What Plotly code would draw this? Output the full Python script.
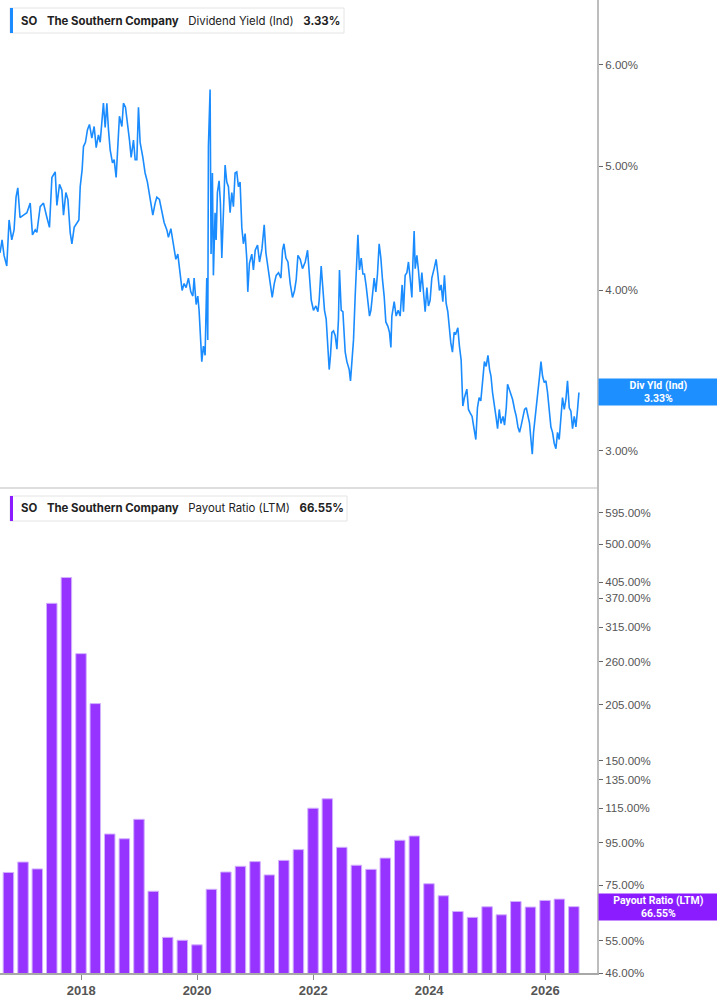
import math
import pandas as pd
import plotly.graph_objects as go

# ---------------- data ----------------
# Dividend yield (Ind), % — decimal-year dates
yield_dates = [
    2016.603, 2016.638, 2016.672, 2016.719, 2016.759, 2016.805, 2016.845, 2016.879, 2016.909, 2016.948,
    2017.005, 2017.064, 2017.121, 2017.160, 2017.207, 2017.236, 2017.293, 2017.350, 2017.409, 2017.453,
    2017.495, 2017.552, 2017.581, 2017.626, 2017.667, 2017.695, 2017.736, 2017.771, 2017.810, 2017.840,
    2017.879, 2017.926, 2017.960, 2017.983, 2018.017, 2018.040, 2018.074, 2018.109, 2018.143, 2018.184,
    2018.224, 2018.259, 2018.298, 2018.328, 2018.357, 2018.384, 2018.414, 2018.443, 2018.471, 2018.500,
    2018.540, 2018.569, 2018.603, 2018.626, 2018.660, 2018.702, 2018.729, 2018.764, 2018.798, 2018.833,
    2018.862, 2018.902, 2018.931, 2018.960, 2018.988, 2019.017, 2019.064, 2019.103, 2019.143, 2019.172,
    2019.202, 2019.236, 2019.276, 2019.305, 2019.350, 2019.391, 2019.431, 2019.478, 2019.505, 2019.547,
    2019.591, 2019.633, 2019.667, 2019.707, 2019.741, 2019.776, 2019.810, 2019.850, 2019.891, 2019.926,
    2019.948, 2019.983, 2020.012, 2020.034, 2020.052, 2020.081, 2020.109, 2020.138, 2020.167, 2020.184,
    2020.195, 2020.224, 2020.241, 2020.264, 2020.281, 2020.310, 2020.328, 2020.350, 2020.379, 2020.402,
    2020.426, 2020.453, 2020.483, 2020.512, 2020.540, 2020.569, 2020.598, 2020.626, 2020.655, 2020.684,
    2020.712, 2020.741, 2020.771, 2020.798, 2020.828, 2020.857, 2020.874, 2020.902, 2020.943, 2020.971,
    2021.000, 2021.040, 2021.074, 2021.116, 2021.155, 2021.184, 2021.219, 2021.259, 2021.293, 2021.328,
    2021.362, 2021.402, 2021.443, 2021.471, 2021.495, 2021.529, 2021.564, 2021.603, 2021.643, 2021.678,
    2021.707, 2021.736, 2021.776, 2021.815, 2021.862, 2021.902, 2021.931, 2021.966, 2022.005, 2022.047,
    2022.081, 2022.103, 2022.138, 2022.167, 2022.195, 2022.224, 2022.253, 2022.276, 2022.298, 2022.322,
    2022.350, 2022.379, 2022.409, 2022.436, 2022.453, 2022.483, 2022.512, 2022.552, 2022.581, 2022.621,
    2022.643, 2022.667, 2022.695, 2022.724, 2022.753, 2022.771, 2022.798, 2022.828, 2022.857, 2022.884,
    2022.914, 2022.943, 2022.971, 2022.995, 2023.022, 2023.052, 2023.081, 2023.109, 2023.138, 2023.167,
    2023.195, 2023.224, 2023.253, 2023.288, 2023.316, 2023.340, 2023.357, 2023.397, 2023.431, 2023.466,
    2023.500, 2023.534, 2023.557, 2023.586, 2023.616, 2023.643, 2023.672, 2023.702, 2023.719, 2023.741,
    2023.759, 2023.788, 2023.815, 2023.845, 2023.874, 2023.902, 2023.931, 2023.960, 2023.988, 2024.017,
    2024.046, 2024.086, 2024.121, 2024.150, 2024.178, 2024.207, 2024.236, 2024.264, 2024.293, 2024.322,
    2024.350, 2024.374, 2024.402, 2024.431, 2024.460, 2024.495, 2024.522, 2024.552, 2024.581, 2024.609,
    2024.650, 2024.678, 2024.707, 2024.741, 2024.764, 2024.805, 2024.833, 2024.862, 2024.891, 2024.926,
    2024.953, 2024.983, 2025.012, 2025.040, 2025.064, 2025.091, 2025.121, 2025.150, 2025.178, 2025.207,
    2025.236, 2025.271, 2025.298, 2025.328, 2025.350, 2025.379, 2025.409, 2025.436, 2025.471, 2025.500,
    2025.529, 2025.557, 2025.586, 2025.616, 2025.643, 2025.672, 2025.702, 2025.729, 2025.753, 2025.776,
    2025.798, 2025.828, 2025.857, 2025.884, 2025.902, 2025.926, 2025.953, 2025.983, 2026.012, 2026.040,
    2026.069, 2026.098, 2026.126, 2026.155, 2026.184, 2026.212, 2026.241, 2026.271, 2026.298, 2026.328,
    2026.357, 2026.384, 2026.414, 2026.443, 2026.471, 2026.500, 2026.529, 2026.557, 2026.581,
]
yield_values = [
    4.28, 4.38, 4.26, 4.18, 4.54, 4.38, 4.46, 4.73, 4.81, 4.56,
    4.58, 4.60, 4.68, 4.42, 4.46, 4.44, 4.65, 4.68, 4.56, 4.48,
    4.90, 4.95, 4.66, 4.84, 4.79, 4.58, 4.77, 4.71, 4.44, 4.35,
    4.48, 4.52, 4.54, 4.82, 4.97, 5.18, 5.22, 5.34, 5.39, 5.26,
    5.37, 5.17, 5.29, 5.22, 5.47, 5.60, 5.36, 5.60, 5.34, 5.15,
    5.03, 5.06, 4.90, 5.18, 5.47, 5.37, 5.60, 5.56, 5.42, 5.24,
    5.08, 5.24, 5.06, 5.06, 5.56, 5.22, 5.08, 4.94, 4.86, 4.77,
    4.66, 4.58, 4.68, 4.73, 4.71, 4.60, 4.52, 4.46, 4.40, 4.47,
    4.35, 4.23, 4.27, 4.12, 4.00, 4.05, 4.02, 4.09, 3.99, 3.96,
    4.09, 3.90, 3.96, 3.86, 3.73, 3.52, 3.62, 3.56, 4.09, 3.66,
    5.18, 5.74, 4.27, 4.94, 4.11, 4.60, 4.38, 4.77, 4.87, 4.68,
    4.24, 4.56, 5.01, 4.86, 4.82, 4.60, 4.77, 4.65, 4.94, 4.95,
    4.82, 4.86, 4.48, 4.35, 4.43, 4.23, 3.99, 4.20, 4.27, 4.15,
    4.30, 4.34, 4.21, 4.31, 4.50, 4.28, 4.18, 4.06, 3.95, 4.05,
    4.11, 4.13, 4.09, 4.30, 4.35, 4.24, 4.21, 4.05, 3.95, 4.00,
    4.08, 4.26, 4.23, 4.16, 4.21, 4.30, 4.09, 3.93, 3.86, 3.89,
    3.85, 3.93, 4.18, 4.00, 3.86, 3.80, 3.64, 3.47, 3.56, 3.71,
    3.72, 3.69, 3.60, 3.80, 4.15, 3.86, 3.85, 3.58, 3.52, 3.47,
    3.40, 3.52, 3.66, 3.96, 4.20, 4.42, 4.15, 4.24, 4.12, 4.12,
    4.03, 3.93, 3.82, 3.86, 3.99, 4.09, 3.99, 4.12, 4.35, 4.24,
    4.08, 3.96, 3.78, 3.75, 3.71, 3.61, 3.82, 3.92, 3.82, 3.86,
    3.82, 4.04, 3.85, 4.11, 4.13, 4.21, 4.09, 3.95, 4.20, 4.45,
    4.16, 4.26, 4.15, 3.99, 4.13, 3.97, 3.85, 4.02, 3.89, 3.93,
    4.09, 4.16, 4.23, 4.12, 4.00, 4.04, 3.92, 4.11, 3.91, 3.85,
    3.73, 3.64, 3.58, 3.71, 3.70, 3.74, 3.62, 3.53, 3.25, 3.30,
    3.35, 3.23, 3.21, 3.19, 3.14, 3.06, 3.24, 3.30, 3.28, 3.39,
    3.52, 3.49, 3.56, 3.47, 3.43, 3.33, 3.24, 3.19, 3.12, 3.23,
    3.15, 3.19, 3.14, 3.24, 3.38, 3.35, 3.33, 3.29, 3.23, 3.19,
    3.13, 3.10, 3.14, 3.18, 3.23, 3.24, 3.20, 3.15, 3.06, 2.98,
    3.10, 3.19, 3.27, 3.34, 3.43, 3.52, 3.43, 3.39, 3.40, 3.33,
    3.24, 3.13, 3.10, 3.04, 3.01, 3.10, 3.06, 3.19, 3.30, 3.23,
    3.29, 3.40, 3.24, 3.22, 3.12, 3.19, 3.13, 3.23, 3.33,
]

# Payout ratio (LTM), % — quarterly
payout_dates = [
    "2016-09-30", "2016-12-31", "2017-03-31", "2017-06-30", "2017-09-30", "2017-12-31",
    "2018-03-31", "2018-06-30", "2018-09-30", "2018-12-31", "2019-03-31", "2019-06-30",
    "2019-09-30", "2019-12-31", "2020-03-31", "2020-06-30", "2020-09-30", "2020-12-31",
    "2021-03-31", "2021-06-30", "2021-09-30", "2021-12-31", "2022-03-31", "2022-06-30",
    "2022-09-30", "2022-12-31", "2023-03-31", "2023-06-30", "2023-09-30", "2023-12-31",
    "2024-03-31", "2024-06-30", "2024-09-30", "2024-12-31", "2025-03-31", "2025-06-30",
    "2025-09-30", "2025-12-31", "2026-03-31", "2026-06-30",
]
payout_values = [
    80.5, 85.3, 82.1, 359.9, 415.4, 272.0, 206.0, 99.7, 97.1, 108.2,
    72.5, 56.1, 55.2, 53.8, 73.3, 80.7, 83.3, 85.5, 79.4, 86.1,
    91.4, 115.1, 121.3, 92.6, 83.8, 81.9, 87.2, 96.3, 98.6, 75.6,
    70.7, 64.8, 62.7, 66.5, 63.6, 68.5, 66.4, 68.9, 69.4, 66.55,
]

yield_ticks = [3, 4, 5, 6]
payout_ticks = [46, 55, 75, 95, 115, 135, 150, 205, 260, 315, 370, 405, 500, 595]

# ---------------- helpers ----------------
W, H = 717, 1005


def dec_to_ts(y):
    yr = int(y)
    return pd.Timestamp(f"{yr}-01-01") + pd.Timedelta(days=(y - yr) * 365.25)


def px(x):
    return x / W


def py(y):
    return 1 - y / H


yield_x = [dec_to_ts(d) for d in yield_dates]
payout_x = pd.to_datetime(payout_dates)

BLUE = "#1a8cff"
PURPLE = "#9633ff"
PURPLE_BOX = "#8b1cff"

fig = go.Figure()
fig.add_trace(go.Scatter(
    x=yield_x, y=yield_values, mode="lines",
    line=dict(color=BLUE, width=1.6), xaxis="x", yaxis="y", showlegend=False,
))
fig.add_trace(go.Bar(
    x=payout_x, y=payout_values, xaxis="x2", yaxis="y2",
    width=66 * 86400000,
    marker=dict(color=PURPLE, line=dict(color="#d2b0ff", width=1)),
    showlegend=False,
))

xr = ["2016-08-08", "2026-11-23"]
xdom = [0, 597 / W]
top_dom = [py(487), 1]
bot_dom = [py(973), py(487)]

tickfont_y = dict(family="Liberation Sans, Arial", size=11.5, color="#555555")

fig.update_layout(
    width=W, height=H, autosize=False,
    margin=dict(l=0, r=0, t=0, b=0, pad=0, autoexpand=False),
    paper_bgcolor="white", plot_bgcolor="white",
    xaxis=dict(
        domain=xdom, anchor="y", type="date", range=xr, showticklabels=False,
        ticks="", showgrid=False, zeroline=False, automargin=False,
        showline=True, linecolor="#dedede", linewidth=2,
    ),
    xaxis2=dict(
        domain=xdom, anchor="y2", type="date", range=xr, matches="x",
        showgrid=False, zeroline=False, automargin=False,
        showline=True, linecolor="#a8a8a8", linewidth=1.5,
        ticks="outside", ticklen=5, tickcolor="#8a8a8a", tickwidth=1,
        tick0="2018-01-01", dtick="M24", tickformat="%Y",
        tickfont=dict(family="Liberation Sans, Arial", size=13, color="#555555", weight="bold"),
    ),
    yaxis=dict(
        domain=top_dom, anchor="x", type="log", side="right",
        range=[0.4487, 0.8287], automargin=False,
        showgrid=False, zeroline=False,
        showline=True, linecolor="#bdbdbd", linewidth=2,
        ticks="outside", ticklen=4, tickcolor="#666666",
        tickvals=yield_ticks, ticktext=[f"{v:.2f}%" for v in yield_ticks],
        tickfont=tickfont_y,
    ),
    yaxis2=dict(
        domain=bot_dom, anchor="x2", type="log", side="right",
        range=[1.6628, 2.8373], automargin=False,
        showgrid=False, zeroline=False,
        showline=True, linecolor="#bdbdbd", linewidth=2,
        ticks="outside", ticklen=4, tickcolor="#666666",
        tickvals=payout_ticks, ticktext=[f"{v:.2f}%" for v in payout_ticks],
        tickfont=tickfont_y,
    ),
)

NB = "\u00a0"
legend_font = dict(family="Inter", size=11.4, color="#222222")


def legend_box(ytop, width, color, label, value):
    fig.add_shape(type="rect", xref="paper", yref="paper",
                  x0=px(10), x1=px(10 + width), y0=py(ytop + 25), y1=py(ytop),
                  line=dict(color="#e4e4e4", width=1), fillcolor="white", layer="above")
    fig.add_shape(type="rect", xref="paper", yref="paper",
                  x0=px(10), x1=px(13), y0=py(ytop + 25), y1=py(ytop),
                  line=dict(width=0), fillcolor=color, layer="above")
    txt = (f"<b>SO</b>{NB}{NB}{NB}<b>The Southern Company</b>{NB}{NB}{NB}"
           f"{label}{NB}{NB}{NB}<b>{value}</b>")
    fig.add_annotation(xref="paper", yref="paper", x=px(19), y=py(ytop + 12.5),
                       xanchor="left", yanchor="middle", text=txt, showarrow=False,
                       font=legend_font)


legend_box(8, 334, BLUE, "Dividend Yield (Ind)", f"{yield_values[-1]:.2f}%")
legend_box(496, 337, PURPLE_BOX, "Payout Ratio (LTM)", f"{payout_values[-1]:.2f}%")

# right-side value badges
label_font = dict(family="Roboto, Liberation Sans", size=10.5, color="white", weight="bold")
for yref, val, color, name in [("y", yield_values[-1], "#1e8fff", "Div Yld (Ind)"),
                               ("y2", payout_values[-1], PURPLE_BOX, "Payout Ratio (LTM)")]:
    fig.add_annotation(xref="paper", yref=yref, x=px(598), y=math.log10(val),
                       xanchor="left", yanchor="middle", showarrow=False,
                       width=119, height=26, borderpad=0, bgcolor=color,
                       align="center", valign="middle",
                       text=f"{name}<br>{val:.2f}%", font=label_font)

post = (
    "document.documentElement.style.margin='0';"
    "document.documentElement.style.padding='0';"
    "document.documentElement.style.overflow='hidden';"
    "document.body.style.margin='0';"
    "document.body.style.padding='0';"
    "document.body.style.overflow='hidden';"
)
fig.write_html("out.html", post_script=post, config={"displayModeBar": False})
